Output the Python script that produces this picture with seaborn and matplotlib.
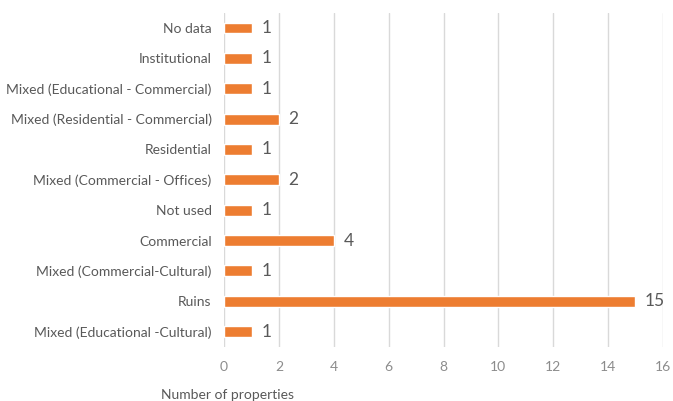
import matplotlib
matplotlib.use("Agg")
import matplotlib.pyplot as plt
import seaborn as sns
import pandas as pd

categories = [
    "No data",
    "Institutional",
    "Mixed (Educational - Commercial)",
    "Mixed (Residential - Commercial)",
    "Residential",
    "Mixed (Commercial - Offices)",
    "Not used",
    "Commercial",
    "Mixed (Commercial-Cultural)",
    "Ruins",
    "Mixed (Educational -Cultural)",
]
counts = [1, 1, 1, 2, 1, 2, 1, 4, 1, 15, 1]
x_ticks = [0, 2, 4, 6, 8, 10, 12, 14, 16]

df = pd.DataFrame({"category": categories, "count": counts})

sns.set_theme(style="white")
plt.rcParams["font.family"] = ["Lato", "DejaVu Sans"]

text_color = "#595959"
tick_color = "#8C8C8C"
bar_color = "#ED7D31"
grid_color = "#D9D9D9"

fig = plt.figure(figsize=(6.73, 4.01), dpi=100)
ax = fig.add_axes([0.333, 0.135, 0.652, 0.833])

sns.barplot(data=df, x="count", y="category", orient="h", color=bar_color,
            width=0.36, ax=ax, saturation=1)

ax.set_xlim(0, 16)
ax.set_ylim(10.5, -0.5)
ax.set_xticks(x_ticks)
ax.set_xticklabels([str(t) for t in x_ticks])
ax.xaxis.grid(True, color=grid_color, linewidth=1)
ax.set_axisbelow(True)
for s in ax.spines.values():
    s.set_visible(False)
ax.tick_params(axis="both", length=0, colors=text_color, labelsize=10)
ax.tick_params(axis="x", pad=10, colors=tick_color)
ax.tick_params(axis="y", pad=9)
ax.set_xlabel("")
ax.set_ylabel("")

for i, v in enumerate(counts):
    ax.text(v + 0.35, i, str(v), va="center", ha="left", fontsize=12.5,
            color=text_color)

fig.text(0.338, 0.0, "Number of properties", ha="center", va="bottom",
         fontsize=10, color=text_color)

fig.savefig("out.png", dpi=100)
